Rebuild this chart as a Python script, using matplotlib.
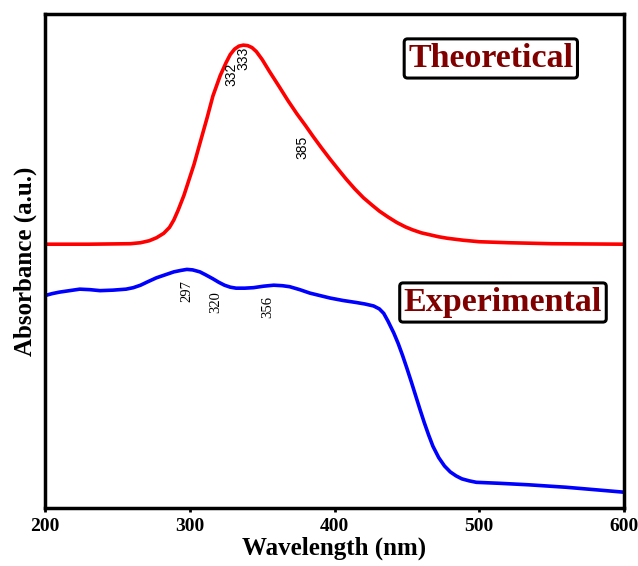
import numpy as np
import matplotlib
matplotlib.use("Agg")
import matplotlib.pyplot as plt

# Theoretical spectrum (red)
theo_wl = [200, 230, 259, 266, 272, 277, 282, 286, 289, 292, 296, 299, 303, 307,
           312, 316, 321, 325, 328, 331, 334, 337, 340, 343, 346, 350, 355, 362,
           368, 374, 380, 385, 391, 397, 403, 408, 414, 420, 426, 431, 437, 443,
           449, 454, 460, 466, 472, 478, 489, 500, 520, 550, 600]
theo_abs = [0.534, 0.534, 0.535, 0.537, 0.541, 0.547, 0.556, 0.568, 0.583, 0.603,
            0.633, 0.660, 0.696, 0.738, 0.790, 0.834, 0.875, 0.901, 0.918, 0.929,
            0.935, 0.937, 0.936, 0.932, 0.924, 0.908, 0.884, 0.852, 0.824, 0.798,
            0.774, 0.753, 0.729, 0.706, 0.684, 0.666, 0.646, 0.628, 0.613, 0.601,
            0.589, 0.578, 0.569, 0.563, 0.557, 0.553, 0.549, 0.546, 0.542, 0.539,
            0.537, 0.535, 0.534]

# Experimental spectrum (blue)
exp_wl = [200, 205, 210, 217, 224, 231, 238, 247, 256, 261, 266, 271, 277, 283,
          289, 294, 298, 302, 307, 311, 316, 320, 324, 328, 332, 338, 344, 351,
          358, 364, 369, 376, 383, 390, 397, 406, 415, 421, 427, 431, 434, 437,
          441, 444, 447, 450, 453, 456, 459, 462, 465, 468, 472, 476, 480, 484,
          488, 493, 498, 514, 534, 560, 580, 600]
exp_abs = [0.430, 0.434, 0.437, 0.440, 0.443, 0.442, 0.440, 0.441, 0.443, 0.446,
           0.451, 0.458, 0.466, 0.472, 0.478, 0.481, 0.483, 0.482, 0.478, 0.472,
           0.464, 0.457, 0.451, 0.447, 0.445, 0.445, 0.446, 0.449, 0.451, 0.450,
           0.448, 0.442, 0.435, 0.430, 0.425, 0.420, 0.416, 0.413, 0.409, 0.403,
           0.394, 0.378, 0.354, 0.333, 0.309, 0.283, 0.256, 0.228, 0.200, 0.173,
           0.148, 0.125, 0.102, 0.085, 0.073, 0.065, 0.059, 0.055, 0.052, 0.050,
           0.047, 0.042, 0.037, 0.032]

# peak labels: text, wavelength, absorbance position
theo_peaks = [("332", 329, 0.877), ("333", 337, 0.911), ("385", 378, 0.729)]
exp_peaks = [("297", 298, 0.440), ("320", 318, 0.417), ("356", 354, 0.407)]

xticks = [200, 300, 400, 500, 600]

plt.rcParams['font.family'] = ['Liberation Serif', 'DejaVu Serif']

fig = plt.figure(figsize=(6.38, 5.66), dpi=100)
ax = fig.add_axes([45 / 638, 58 / 566, 579 / 638, 494 / 566])

ax.plot(theo_wl, theo_abs, color='#ff0000', lw=2.6, solid_capstyle='round',
        solid_joinstyle='round')
ax.plot(exp_wl, exp_abs, color='#0000ff', lw=2.6, solid_capstyle='round',
        solid_joinstyle='round')

for txt, x, y in theo_peaks:
    ax.text(x, y, txt, rotation=90, ha='center', va='center', fontsize=10,
            family=['Liberation Sans', 'DejaVu Sans'])
for txt, x, y in exp_peaks:
    ax.text(x, y, txt, rotation=90, ha='center', va='center', fontsize=10.5)

box = dict(boxstyle='round,pad=0.12,rounding_size=0.1', fc='white', ec='black', lw=2.2)
ax.text(0.770, 0.910, 'Theoretical', transform=ax.transAxes, ha='center', va='center',
        fontsize=24.5, fontweight='bold', color='#800000', bbox=box)
ax.text(0.791, 0.416, 'Experimental', transform=ax.transAxes, ha='center', va='center',
        fontsize=24.5, fontweight='bold', color='#800000', bbox=box)

ax.set_xlim(200, 600)
ax.set_ylim(0, 1)
ax.set_xticks(xticks)
ax.set_yticks([])
ax.tick_params(axis='x', direction='out', length=3, width=2, labelsize=14, pad=4)
for lab in ax.get_xticklabels():
    lab.set_fontweight('bold')
for sp in ax.spines.values():
    sp.set_linewidth(2.5)

ax.set_xlabel('Wavelength (nm)', fontsize=18, fontweight='bold', labelpad=1)
ax.set_ylabel('Absorbance (a.u.)', fontsize=18, fontweight='bold', labelpad=6)

fig.savefig('out.png', dpi=100)
